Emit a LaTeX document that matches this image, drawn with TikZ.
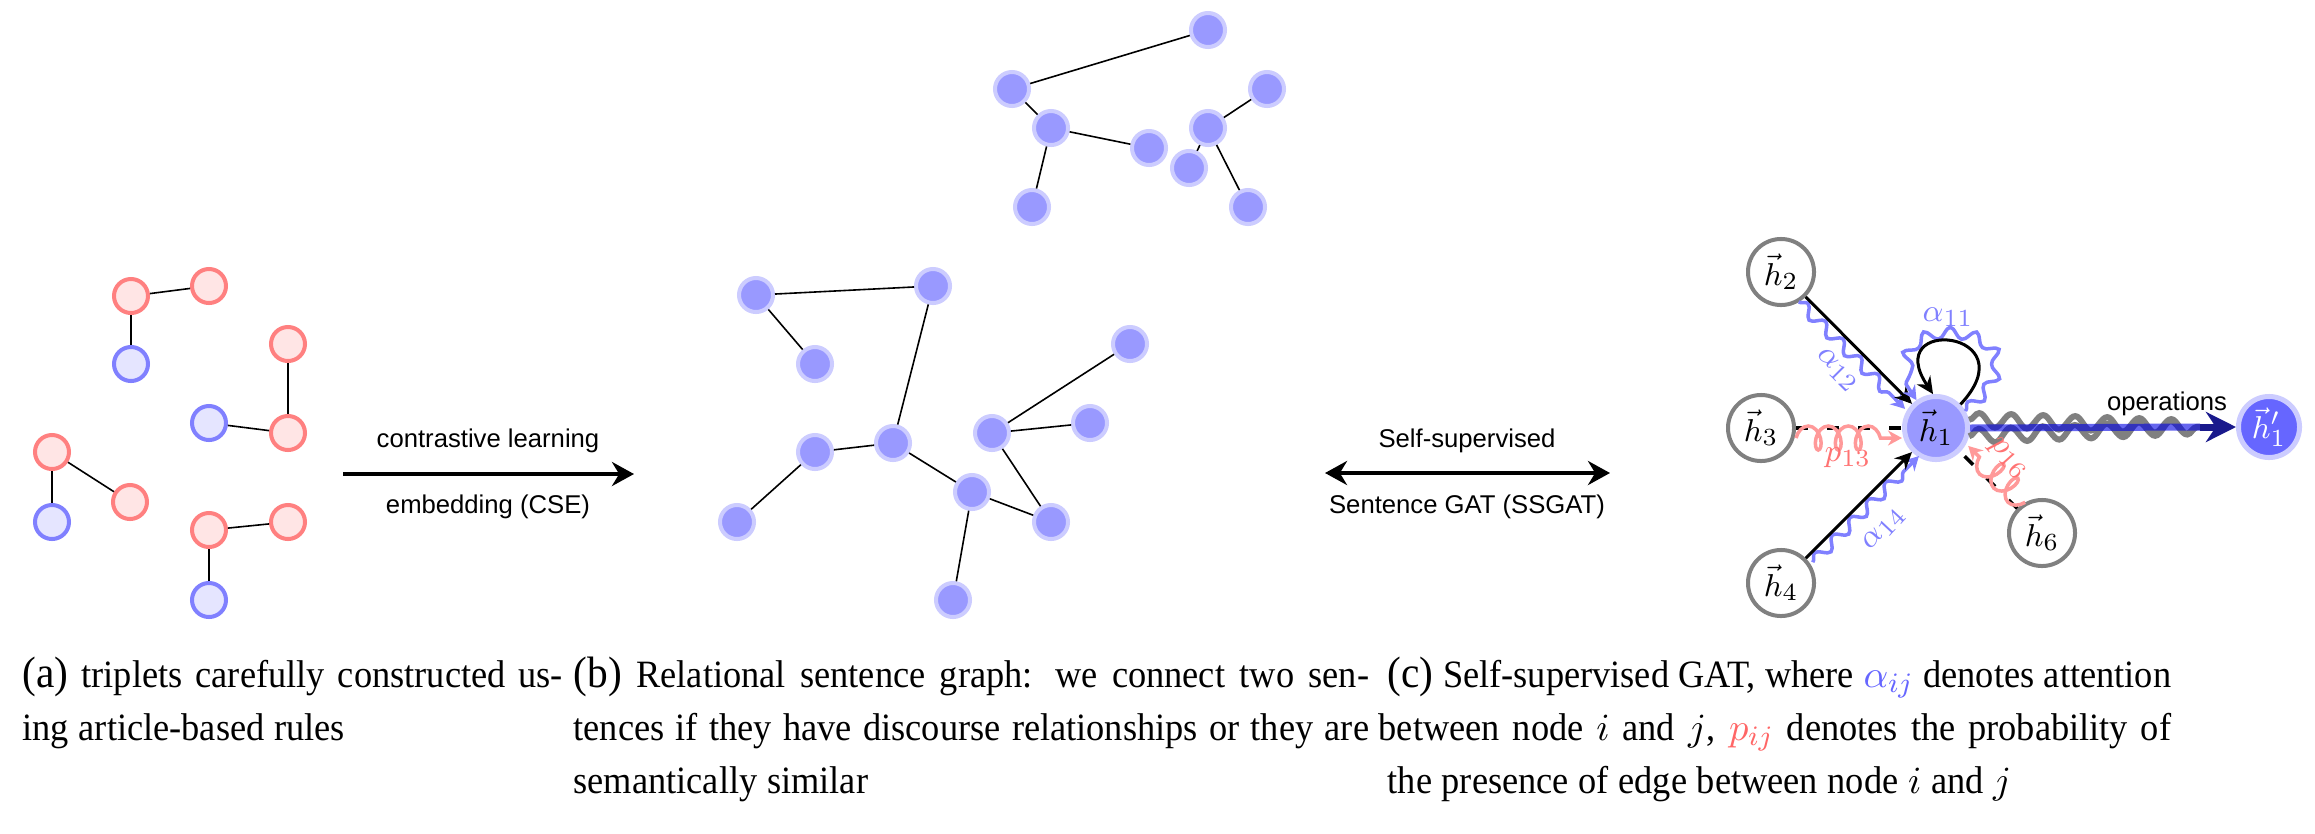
\documentclass[tikz,border=0pt]{standalone}
\usepackage[no-math]{fontspec}
\setmainfont{Liberation Serif}[FakeStretch=0.94]
\setsansfont{Liberation Sans}
\usetikzlibrary{arrows.meta,decorations.pathmorphing,calc}
\newcommand\mycapfont{\fontsize{11}{12}\selectfont\spaceskip=0.25em plus 0.6em minus 0.1em\relax}
\newcommand\mysublbl[1]{{\fontsize{12.5}{12}\selectfont(#1)}}
\newcommand\mylblfont{\sffamily\fontsize{7.3}{8}\selectfont}
\newcommand\mymathfont{\fontsize{9.5}{10}\selectfont}
\definecolor{attblue}{rgb}{0.5,0.5,1}
\definecolor{navytip}{RGB}{25,25,140}
\tikzset{
  bigtip/.tip={Stealth[length=0.22cm, width=0.24cm]},
  tnode/.style={circle, minimum size=0.34cm, inner sep=0pt, line width=0.04cm},
  rnode/.style={tnode, draw=red!50, fill=red!10},
  bnode/.style={tnode, draw=blue!50, fill=blue!10},
  gnode/.style={tnode, draw=blue!20, fill=blue!40},
  link/.style={line width=0.016cm},
  bigarrow/.style={line width=0.045cm},
  lbl/.style={font=\mylblfont, inner sep=0pt, anchor=base},
  captxt/.style={font=\mycapfont, inner sep=0pt, anchor=base west},
  hnode/.style={circle, draw=gray, line width=0.04cm, minimum size=0.66cm, inner sep=0pt, fill=white, font=\mymathfont},
  honestyle/.style={circle, draw=blue!20, fill=blue!40, line width=0.05cm, minimum size=0.63cm, inner sep=0pt, font=\mymathfont},
  hprimestyle/.style={circle, draw=blue!20, fill=blue!60, text=white, line width=0.05cm, minimum size=0.61cm, inner sep=0pt, font=\mymathfont},
  blk/.style={line width=0.03cm, -{Stealth[length=0.17cm, width=0.16cm]}},
  dsh/.style={line width=0.035cm, dash pattern=on 0.12cm off 0.19cm},
  att/.style={attblue, line width=0.035cm, decorate, decoration={snake, amplitude=0.055cm, segment length=0.25cm, post length=0.12cm}, -{Stealth[length=0.14cm, width=0.15cm]}},
  prob/.style={red!40, line width=0.035cm, decorate, decoration={coil, amplitude=0.12cm, segment length=0.2cm, aspect=0.6, post length=0.1cm}, -{Stealth[length=0.14cm, width=0.15cm]}},
  albl/.style={font=\mymathfont, text=attblue, inner sep=0pt},
  plbl/.style={font=\mymathfont, text=red!55, inner sep=0pt},
  graysnake/.style={gray, line width=0.06cm, decorate, decoration={snake, amplitude=0.07cm, segment length=0.32cm}},
}
\begin{document}
\begin{tikzpicture}[x=0.01cm, y=-0.01cm]
\fill[white] (0,0) rectangle (2315,833);
\useasboundingbox (0,0) rectangle (2315,833);

% ---------------- (a) triplets
\node[rnode] (p1) at (131,296) {};
\node[rnode] (p2) at (209,286) {};
\node[bnode] (p3) at (131,364) {};
\node[rnode] (p4) at (288,344) {};
\node[rnode] (p5) at (288,433) {};
\node[bnode] (p6) at (209,423) {};
\node[rnode] (q1) at (52,452) {};
\node[bnode] (q2) at (52,522) {};
\node[rnode] (q3) at (130,502) {};
\node[rnode] (r1) at (209,530) {};
\node[rnode] (r2) at (288,522) {};
\node[bnode] (r3) at (209,600) {};
\draw[link] (p1) -- (p2);
\draw[link] (p1) -- (p3);
\draw[link] (p4) -- (p5);
\draw[link] (p5) -- (p6);
\draw[link] (q1) -- (q2);
\draw[link] (q1) -- (q3);
\draw[link] (r1) -- (r2);
\draw[link] (r1) -- (r3);

% arrow (a)->(b)
\coordinate (cl1) at (343,474);
\coordinate (cl2) at (634,474);
\draw[bigarrow, -bigtip] (cl1) -- (cl2);
\node[lbl] (cltxt1) at (488,447) {contrastive learning};
\node[lbl] (cltxt2) at (488,513) {embedding (CSE)};

% ---------------- (b) top graph
\node[gnode] (t1) at (1208,30) {};
\node[gnode] (t2) at (1012,89) {};
\node[gnode] (t3) at (1051,128) {};
\node[gnode] (t4) at (1149,148) {};
\node[gnode] (t5) at (1032,207) {};
\node[gnode] (t6) at (1208,128) {};
\node[gnode] (t7) at (1267,89) {};
\node[gnode] (t8) at (1189,168) {};
\node[gnode] (t9) at (1248,207) {};
\draw[link] (t1) -- (t2);
\draw[link] (t2) -- (t3);
\draw[link] (t3) -- (t4);
\draw[link] (t3) -- (t5);
\draw[link] (t6) -- (t7);
\draw[link] (t6) -- (t8);
\draw[link] (t6) -- (t9);

% ---------------- (b) main graph
\node[gnode] (nA) at (756,295) {};
\node[gnode] (nB) at (933,286) {};
\node[gnode] (nC) at (815,364) {};
\node[gnode] (nD) at (893,443) {};
\node[gnode] (nE) at (815,452) {};
\node[gnode] (nF) at (737,522) {};
\node[gnode] (nG) at (972,492) {};
\node[gnode] (nH) at (1051,522) {};
\node[gnode] (nI) at (992,433) {};
\node[gnode] (nJ) at (1090,423) {};
\node[gnode] (nK) at (1130,344) {};
\node[gnode] (nL) at (953,600) {};
\draw[link] (nA) -- (nB);
\draw[link] (nA) -- (nC);
\draw[link] (nB) -- (nD);
\draw[link] (nD) -- (nE);
\draw[link] (nE) -- (nF);
\draw[link] (nD) -- (nG);
\draw[link] (nG) -- (nH);
\draw[link] (nG) -- (nL);
\draw[link] (nI) -- (nH);
\draw[link] (nI) -- (nJ);
\draw[link] (nI) -- (nK);

% double arrow (b)<->(c)
\coordinate (ss1) at (1325,473);
\coordinate (ss2) at (1610,473);
\draw[bigarrow, bigtip-bigtip] (ss1) -- (ss2);
\node[lbl] (sstxt1) at (1467,447) {Self-supervised};
\node[lbl] (sstxt2) at (1467,513) {Sentence GAT (SSGAT)};

% ---------------- (c) GAT
\node[hnode] (h2) at (1781,272) {$\vec{h}_2$};
\node[hnode] (h3) at (1761,428) {$\vec{h}_3$};
\node[hnode] (h4) at (1781,583) {$\vec{h}_4$};
\node[hnode] (h6) at (2042,533) {$\vec{h}_6$};
\node[honestyle] (h1) at (1936,428) {$\vec{h}_1$};
\node[hprimestyle] (h1p) at (2269,427) {$\vec{h}'_1$};

% output operations
\coordinate (opEnd) at (2200,427);
\draw[graysnake] (h1.14) -- (opEnd);
\draw[graysnake] (h1.-14) -- (opEnd);
\draw[line width=0.07cm, blue!90!black, opacity=0.6] (h1.east) -- (opEnd);
\draw[line width=0.07cm, navytip, -{Stealth[length=0.3cm, width=0.3cm]}] (opEnd) -- (h1p);
\node[lbl] (optxt) at (2167,410) {operations};

% attention alpha12
\draw[att, transform canvas={xshift=-0.07cm, yshift=-0.05cm}] (h2) -- (h1);
\draw[blk] (h2) -- (h1);
\node[albl, rotate=-45] (a12) at (1837,370) {$\alpha_{12}$};

% attention alpha14
\draw[att, transform canvas={xshift=0.07cm, yshift=-0.04cm}] (h4) -- (h1);
\draw[blk] (h4) -- (h1);
\node[albl, rotate=47] (a14) at (1884,529) {$\alpha_{14}$};

% self loop alpha11
\draw[att] (h1.30) .. controls ($(h1)+(130,-105)$) and ($(h1)+(-90,-122)$) .. (h1.125);
\draw[blk] (h1.44) .. controls ($(h1)+(94,-98)$) and ($(h1)+(-56,-113)$) .. (h1.95);
\node[albl] (a11) at (1948,317) {$\alpha_{11}$};

% p13
\draw[dsh] (h3) -- (h1);
\draw[prob, transform canvas={yshift=-0.1cm}] (h3) -- (h1);
\node[plbl] (p13) at (1848,458) {$p_{13}$};

% p16
\draw[dsh] (h6) -- (h1);
\draw[prob, transform canvas={xshift=0.08cm, yshift=0.06cm}] (h6) -- (h1);
\node[plbl, rotate=-48] (p16) at (2008,459) {$p_{16}$};

% ---------------- captions
\node[captxt] (ca1) at (22,687) {\makebox[5.40cm][s]{\mysublbl{a} triplets carefully constructed us-}};
\node[captxt] (ca2) at (22,740) {ing article-based rules};
\node[captxt] (cb1) at (573,687) {\makebox[7.95cm][s]{\mysublbl{b} Relational sentence graph: we connect two sen-}};
\node[captxt] (cb2) at (573,740) {\makebox[7.95cm][s]{tences if they have discourse relationships or they are}};
\node[captxt] (cb3) at (573,793) {semantically similar};
\node[captxt] (cc1) at (1387,687) {\makebox[7.83cm][s]{\mysublbl{c} Self-supervised GAT, where \textcolor{blue!60}{$\alpha_{ij}$} denotes attention}};
\node[captxt] (cc2) at (1378,740) {\makebox[7.92cm][s]{between node $i$ and $j$, \textcolor{red!60}{$p_{ij}$} denotes the probability of}};
\node[captxt] (cc3) at (1387,793) {the presence of edge between node $i$ and $j$};
\end{tikzpicture}
\end{document}
